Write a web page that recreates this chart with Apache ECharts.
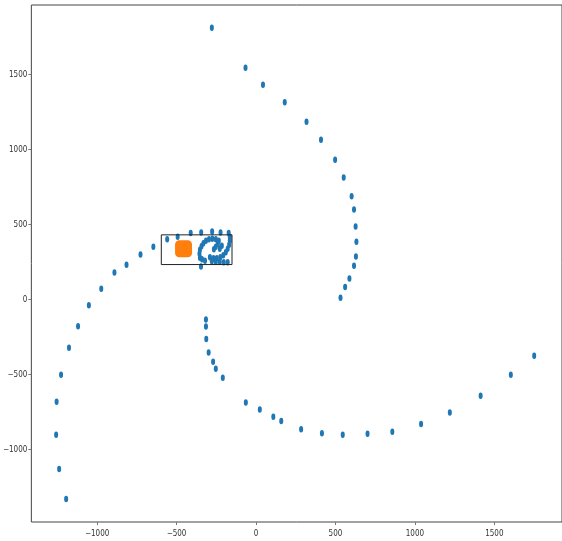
<!DOCTYPE html>
<html>
<head>
<meta charset="utf-8">
<script src="https://cdn.jsdelivr.net/npm/echarts@6/dist/echarts.min.js"></script>
<style>
  html, body { margin: 0; padding: 0; background: #fff; }
  #chart { width: 562px; height: 541px; }
</style>
</head>
<body>
<div id="chart"></div>
<script>
// outer spiral, arm coming down from the top
const armTopX = [-278, -66, 44, 181, 318, 409, 498, 552, 602, 617, 627, 632, 629, 617, 588, 561, 532];
const armTopY = [1811, 1545, 1431, 1315, 1185, 1065, 931, 813, 689, 600, 487, 385, 287, 225, 140, 83, 11];
// arm sweeping along the bottom
const armBottomX = [-315, -315, -313, -298, -270, -253, -209, -64, 24, 109, 159, 284, 415, 546, 702, 858, 1039, 1220, 1414, 1604, 1751];
const armBottomY = [-133, -180, -264, -353, -415, -462, -522, -687, -733, -782, -809, -864, -891, -902, -895, -882, -829, -753, -642, -502, -375];
// arm on the left going into the box
const armLeftX = [-1195, -1239, -1258, -1255, -1227, -1177, -1120, -1052, -974, -891, -815, -727, -646, -559, -493, -411, -345, -276, -223, -172];
const armLeftY = [-1329, -1129, -902, -682, -502, -322, -179, -39, 71, 180, 231, 300, 351, 401, 418, 443, 447, 453, 447, 443];
// small spiral inside the box
const coreX = [-353, -356, -353, -343, -331, -315, -296, -275, -253, -234, -240, -253, -265,
               -165, -165, -169, -178, -190, -206, -225, -247, -268, -290, -228, -215,
               -278, -253, -228, -203, -178, -340, -321, -346];
const coreY = [278, 305, 331, 355, 375, 391, 401, 405, 401, 391, 371, 351, 335,
               418, 391, 365, 338, 315, 295, 281, 275, 275, 281, 338, 358,
               255, 251, 251, 248, 248, 268, 258, 220];
// orange marker
const centerX = [-456];
const centerY = [338];
// zoom box
const boxX = [-596, -151];
const boxY = [233, 431];

const xTicks = [-1000, -500, 0, 500, 1000, 1500];
const yTicks = [-1000, -500, 0, 500, 1000, 1500];

const pairs = (xs, ys) => xs.map((x, i) => [x, ys[i]]);
const points = [].concat(
  pairs(armTopX, armTopY),
  pairs(armBottomX, armBottomY),
  pairs(armLeftX, armLeftY),
  pairs(coreX, coreY)
);
const boxLine = [
  [boxX[0], boxY[0]], [boxX[1], boxY[0]], [boxX[1], boxY[1]],
  [boxX[0], boxY[1]], [boxX[0], boxY[0]]
];

const tickText = v => String(v).replace('-', '\u2212');
const labelFont = {
  fontSize: 8,
  color: '#333',
  fontFamily: '"Liberation Sans Narrow", "DejaVu Sans Condensed", sans-serif'
};

const chart = echarts.init(document.getElementById('chart'));
chart.setOption({
  animation: false,
  backgroundColor: '#fff',
  grid: {
    show: true,
    left: 31,
    top: 5,
    width: 535,      // right spine falls just outside the picture
    height: 517,
    borderColor: '#444',
    borderWidth: 1
  },
  xAxis: {
    type: 'value',
    min: -1414,
    max: 1926,
    axisLine: { show: false, onZero: false },
    splitLine: { show: false },
    axisTick: { show: true, length: 3, lineStyle: { color: '#777' }, customValues: xTicks },
    axisLabel: Object.assign({ margin: 8, customValues: xTicks, formatter: tickText }, labelFont)
  },
  yAxis: {
    type: 'value',
    min: -1483,
    max: 1963,
    axisLine: { show: false, onZero: false },
    splitLine: { show: false },
    axisTick: { show: true, length: 3, lineStyle: { color: '#777' }, customValues: yTicks },
    axisLabel: Object.assign({ margin: 4, customValues: yTicks, formatter: tickText }, labelFont)
  },
  series: [
    {
      type: 'scatter',
      data: points,
      symbol: 'circle',
      symbolSize: [4, 6.5],
      itemStyle: { color: '#1f77b4', opacity: 1 }
    },
    {
      type: 'scatter',
      data: pairs(centerX, centerY),
      symbol: 'roundRect',
      symbolSize: [17, 17],
      itemStyle: { color: '#ff7f0e', opacity: 1 }
    },
    {
      type: 'line',
      data: boxLine,
      symbol: 'none',
      lineStyle: { color: '#222', width: 1 },
      z: 5
    }
  ]
});
</script>
</body>
</html>
